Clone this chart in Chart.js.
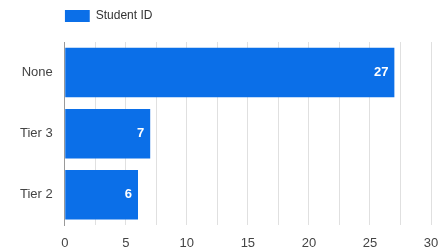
<!DOCTYPE html>
<html lang="en">
<head>
    <meta charset="UTF-8">
    <title>Student ID</title>
    <style>
        body {
            margin: 0;
            padding: 0;
            background-color: #fff;
        }
        .chart-container {
            position: relative;
            width: 439px;
            height: 250px;
        }
    </style>
    <script src="https://cdn.jsdelivr.net/npm/chart.js"></script>
</head>
<body>
    <div class="chart-container">
        <canvas id="tierChart"></canvas>
    </div>
    <script>
        const categories = ["None", "Tier 3", "Tier 2"];
        const studentCounts = [27, 7, 6];
        const seriesLabel = "Student ID";
        const xTickValues = [0, 5, 10, 15, 20, 25, 30];

        const BAR_COLOR = "#0b6fe8";
        const FONT = "'Liberation Sans', Arial, sans-serif";

        // push the chart area down below the legend
        const legendGap = {
            id: "legendGap",
            beforeInit(chart) {
                const fit = chart.legend.fit;
                chart.legend.fit = function () {
                    fit.bind(chart.legend)();
                    this.height += 10;
                };
            }
        };

        // white value labels inside the end of each bar
        const valueLabels = {
            id: "valueLabels",
            afterDatasetsDraw(chart) {
                const ctx = chart.ctx;
                const meta = chart.getDatasetMeta(0);
                ctx.save();
                ctx.fillStyle = "#fff";
                ctx.font = "bold 13px " + FONT;
                ctx.textAlign = "right";
                ctx.textBaseline = "middle";
                meta.data.forEach((bar, i) => {
                    ctx.fillText(String(studentCounts[i]), bar.x - 6, bar.y);
                });
                ctx.restore();
            }
        };

        const ctx = document.getElementById("tierChart").getContext("2d");
        new Chart(ctx, {
            type: "bar",
            data: {
                labels: categories,
                datasets: [{
                    label: seriesLabel,
                    data: studentCounts,
                    backgroundColor: BAR_COLOR,
                    borderWidth: 0,
                    barPercentage: 0.9,
                    categoryPercentage: 0.9
                }]
            },
            options: {
                indexAxis: "y",
                responsive: true,
                maintainAspectRatio: false,
                animation: false,
                layout: {
                    padding: { top: 10, left: 8, right: 0, bottom: -11 }
                },
                plugins: {
                    legend: {
                        display: true,
                        position: "top",
                        align: "start",
                        fullSize: false,
                        labels: {
                            boxWidth: 25,
                            boxHeight: 12,
                            padding: 0,
                            color: "#333",
                            font: { family: FONT, size: 12 }
                        }
                    },
                    tooltip: { enabled: false }
                },
                scales: {
                    x: {
                        min: 0,
                        max: 30,
                        afterFit(scale) {
                            // only leave room for half of the "30" label
                            scale.paddingRight = 8;
                        },
                        ticks: {
                            stepSize: 2.5,
                            autoSkip: false,
                            maxRotation: 0,
                            padding: 10,
                            color: "#444",
                            font: { family: FONT, size: 13 },
                            callback: (v) => xTickValues.includes(v) ? String(v) : ""
                        },
                        grid: {
                            color: "#e0e0e0",
                            drawTicks: false
                        },
                        border: { display: false }
                    },
                    y: {
                        ticks: {
                            padding: 12,
                            color: "#444",
                            font: { family: FONT, size: 13 }
                        },
                        grid: { display: false, drawTicks: false },
                        border: { display: true, color: "#999" }
                    }
                }
            },
            plugins: [legendGap, valueLabels]
        });
    </script>
</body>
</html>
